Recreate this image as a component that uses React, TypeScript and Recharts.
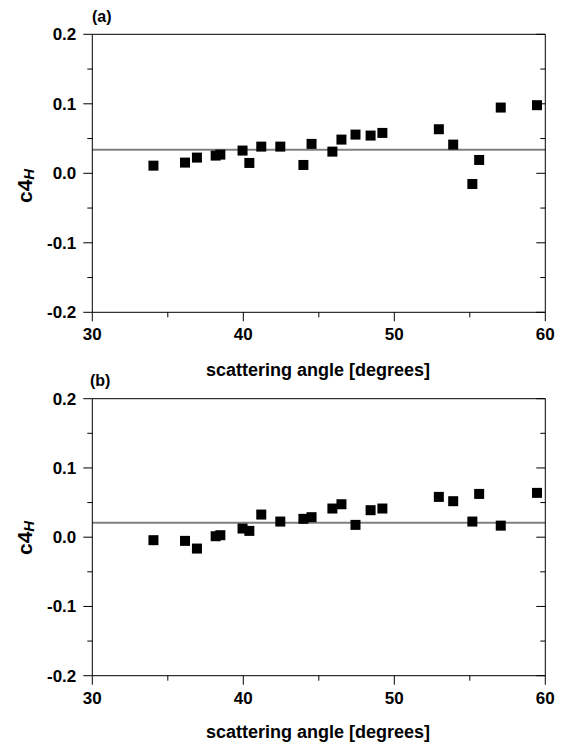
import React from "react";
import {ReferenceLine, Scatter, ScatterChart, XAxis, YAxis} from "recharts";

// scattering angle in degrees, same for both panels
const angles = [
  34.05, 36.14, 36.93, 38.17, 38.48, 39.95, 40.4, 41.19, 42.45, 43.98, 44.52,
  45.9, 46.5, 47.43, 48.43, 49.21, 52.95, 53.9, 55.17, 55.62, 57.05, 59.45,
];
const c4A = [
  0.011, 0.0154, 0.0226, 0.0255, 0.0269, 0.0327, 0.0149, 0.0384, 0.0384, 0.012, 0.0423,
  0.0312, 0.0485, 0.0557, 0.0543, 0.0581, 0.0634, 0.0413, -0.0154, 0.0192, 0.0946, 0.098,
];
const c4B = [
  -0.0043, -0.0053, -0.0164, 0.0014, 0.0029, 0.0125, 0.0091, 0.0327, 0.0226, 0.0265, 0.0289,
  0.0414, 0.0476, 0.0178, 0.039, 0.0414, 0.0582, 0.052, 0.0226, 0.0625, 0.0167, 0.064,
];
const meanA = 0.034;
const meanB = 0.021;

const xTicks = [30, 35, 40, 45, 50, 55, 60];
const yTicks = [-0.2, -0.15, -0.1, -0.05, 0, 0.05, 0.1, 0.15, 0.2];

const FONT = "'Liberation Sans', Arial, sans-serif";
const MAJOR = 9;
const MINOR = 5;

const isMajorX = (v: number) => v % 10 === 0;
const isMajorY = (v: number) => Math.abs(v * 10 - Math.round(v * 10)) < 1e-6;

const BottomTick = (p: any) => {
  const v = p.payload.value;
  const major = isMajorX(v);
  return (
    <g>
      <line x1={p.x} x2={p.x} y1={p.y} y2={p.y + (major ? MAJOR : MINOR)} stroke="#000"/>
      {major && (
        <text x={p.x} y={p.y + 28} textAnchor="middle" fontFamily={FONT} fontWeight="bold" fontSize={17} fill="#000">
          {v}
        </text>
      )}
    </g>
  );
};

const TopTick = (p: any) => {
  const major = isMajorX(p.payload.value);
  return <line x1={p.x} x2={p.x} y1={p.y} y2={p.y + (major ? MAJOR : MINOR)} stroke="#000"/>;
};

const LeftTick = (p: any) => {
  const v = p.payload.value;
  const major = isMajorY(v);
  return (
    <g>
      <line x1={p.x - (major ? MAJOR : MINOR)} x2={p.x} y1={p.y} y2={p.y} stroke="#000"/>
      {major && (
        <text x={p.x - 16} y={p.y + 6} textAnchor="end" fontFamily={FONT} fontWeight="bold" fontSize={17} fill="#000">
          {v.toFixed(1)}
        </text>
      )}
    </g>
  );
};

const RightTick = (p: any) => {
  const major = isMajorY(p.payload.value);
  return <line x1={p.x - (major ? MAJOR : MINOR)} x2={p.x} y1={p.y} y2={p.y} stroke="#000"/>;
};

const Square = (p: any) => <rect x={p.cx - 5} y={p.cy - 5} width={10} height={10} fill="#000"/>;

// axes are 1px thick so recharts draws them; margins are reduced by that pixel
const Panel = ({values, mean, top, height, margin}: any) => {
  const data = angles.map((a, i) => ({angle: a, c4: values[i]}));
  return (
    <div style={{position: "absolute", left: 0, top}}>
      <ScatterChart width={564} height={height} margin={margin}>
        <XAxis xAxisId="b" orientation="bottom" type="number" dataKey="angle" domain={[30, 60]}
               ticks={xTicks} interval={0} height={1} tickSize={0} tickMargin={0} tickLine={false}
               axisLine={{stroke: "#000"}} tick={(p: any) => <BottomTick {...p}/>} allowDataOverflow/>
        <XAxis xAxisId="t" orientation="top" type="number" domain={[30, 60]}
               ticks={xTicks} interval={0} height={1} tickSize={0} tickMargin={0} tickLine={false}
               axisLine={{stroke: "#000"}} tick={(p: any) => <TopTick {...p}/>} allowDataOverflow/>
        <YAxis yAxisId="l" orientation="left" type="number" dataKey="c4" domain={[-0.2, 0.2]}
               ticks={yTicks} interval={0} width={1} tickSize={0} tickMargin={0} tickLine={false}
               axisLine={{stroke: "#000"}} tick={(p: any) => <LeftTick {...p}/>} allowDataOverflow/>
        <YAxis yAxisId="r" orientation="right" type="number" domain={[-0.2, 0.2]}
               ticks={yTicks} interval={0} width={1} tickSize={0} tickMargin={0} tickLine={false}
               axisLine={{stroke: "#000"}} tick={(p: any) => <RightTick {...p}/>} allowDataOverflow/>
        <ReferenceLine xAxisId="b" yAxisId="l" y={mean} stroke="#808080" strokeWidth={2}/>
        <Scatter xAxisId="b" yAxisId="l" data={data} shape={(p: any) => <Square {...p}/>} isAnimationActive={false}/>
      </ScatterChart>
    </div>
  );
};

const YLabel = ({y}: { y: number }) => (
  <text x={32} y={y} transform={`rotate(-90 32 ${y})`} fontFamily={FONT} fontWeight="bold" fontSize={21} fill="#000">
    c4<tspan fontSize={15} fontStyle="italic" dy={2}>H</tspan>
  </text>
);

export default function App() {
  return (
    <div style={{position: "absolute", left: 0, top: 0, width: 564, height: 744, background: "#fff"}}>
      <Panel values={c4A} mean={meanA} top={0} height={392}
             margin={{top: 33.3, left: 91.3, right: 17.7, bottom: 78.7}}/>
      <Panel values={c4B} mean={meanB} top={372} height={372}
             margin={{top: 25.7, left: 91.3, right: 17.7, bottom: 67.3}}/>
      <svg width={564} height={744} style={{position: "absolute", left: 0, top: 0, pointerEvents: "none"}}>
        <text x={92} y={22} fontFamily={FONT} fontWeight="bold" fontSize={16} fill="#000">(a)</text>
        <text x={90} y={386} fontFamily={FONT} fontWeight="bold" fontSize={16} fill="#000">(b)</text>
        <text x={318} y={376} textAnchor="middle" fontFamily={FONT} fontWeight="bold" fontSize={18} fill="#000">
          scattering angle [degrees]
        </text>
        <text x={318} y={738} textAnchor="middle" fontFamily={FONT} fontWeight="bold" fontSize={18} fill="#000">
          scattering angle [degrees]
        </text>
        <YLabel y={203}/>
        <YLabel y={555}/>
      </svg>
    </div>
  );
}
